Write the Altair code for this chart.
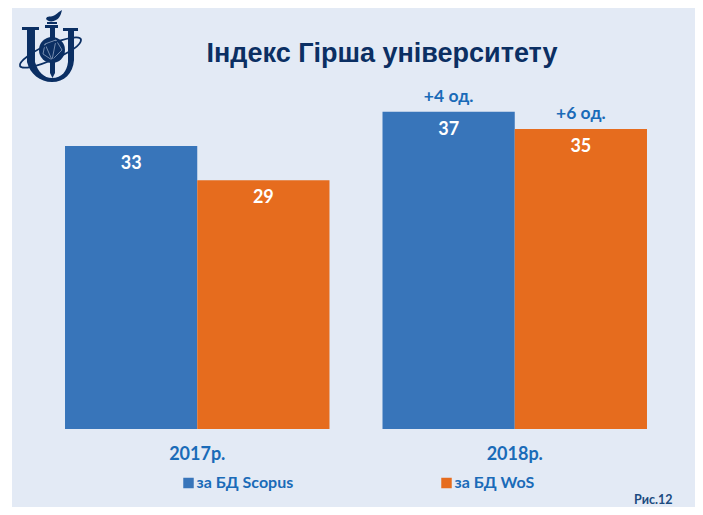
import re
import altair as alt
import pandas as pd

years = ["2017р.", "2017р.", "2018р.", "2018р."]
series = ["за БД Scopus", "за БД WoS", "за БД Scopus", "за БД WoS"]
values = [33, 29, 37, 35]
deltas = ["", "", "+4 од.", "+6 од."]
series_names = ["за БД Scopus", "за БД WoS"]
series_colors = ["#3875BA", "#E66C1E"]
title_text = "Індекс Гірша університету"
fig_label = "Рис.12"

NAVY = "#0B2F63"
BLUE = "#1A6BB8"
FONT = "Lato"
PL, PT = 30.5, 78   # plot origin inside the svg
SW, SH = 687, 499   # svg size that fits the window without rescaling

df = pd.DataFrame({"year": years, "series": series, "value": values, "delta": deltas})
dd = df[df.delta != ""]

x = alt.X("year:N", title=None,
          scale=alt.Scale(paddingInner=0.167, paddingOuter=0.0835),
          axis=alt.Axis(domain=False, ticks=False, labelAngle=0, labelFont=FONT, labelFontWeight="bold",
                        labelFontSize=18, labelColor=BLUE, labelPadding=16, zindex=1))
xo = alt.XOffset("series:N", scale=alt.Scale(domain=series_names, paddingInner=0, paddingOuter=0))
y = alt.Y("value:Q", axis=None, scale=alt.Scale(domain=[0, 40]))
one = pd.DataFrame({"a": [0]})

panel = alt.Chart(one).mark_rect(color="#E3EAF5", clip=False).encode(
    x=alt.value(12 - 8 - PL), x2=alt.value(SW - PL),
    y=alt.value(-PT), y2=alt.value(SH - PT))

bars = alt.Chart(df).mark_bar(width=alt.RelativeBandSize(band=1)).encode(
    x=x, xOffset=xo, y=y,
    color=alt.Color("series:N", title=None,
                    scale=alt.Scale(domain=series_names, range=series_colors),
                    legend=alt.Legend(orient="none", direction="horizontal", columns=2, columnPadding=145,
                                      legendX=142, legendY=389, symbolType="square", symbolSize=110,
                                      symbolStrokeWidth=0, labelFont=FONT, labelFontWeight="bold",
                                      labelFontSize=16, labelColor=BLUE, labelOffset=0)))

nums = alt.Chart(df).mark_text(dy=18, font=FONT, fontWeight="bold", fontSize=18, color="white").encode(
    x=x, xOffset=xo, y=y, text="value:Q")
delta = alt.Chart(dd).mark_text(dy=-15, font=FONT, fontWeight="bold", fontSize=17.5, color=BLUE).encode(
    x=x, xOffset=xo, y=y, text="delta:N")

title = alt.Chart(pd.DataFrame({"t": [title_text]})).mark_text(
    font="Liberation Sans", fontWeight="bold", fontSize=27, color=NAVY, align="center", baseline="alphabetic").encode(
    x=alt.value(382 - 8 - PL), y=alt.value(62 - 8 - PT), text="t:N")

# logo, drawn from SVG paths given in page pixels
CX, CY, R = 50, 46, 36
solid = ("M22 27H39V30H35V62C38 72 44 78 52 78C62 78 67 71 68 62V31H63V28H78V31H74V60C73 74 64 82 52 82"
         "C40 82 30 74 27 62V30H22Z"
         "M45 25H58V28H55V40H50V28H45Z"
         "M50 62H55V73L52.5 78L50 73Z"
         "M46 19C47 15 51 18 55 15C58 13 60 11 62 10C61 14 60 18 56 20C53 22 48 22 46 19Z"
         "M47 22H57V24H47Z")
lines = "M45 44L56 40L62 50L52 60L43 54ZM45 44L52 60M56 40L52 60"
ring_path = "M20 66C18 62 34 50 50 44C66 38 81 35 81 40C81 46 66 54 52 60C38 66 22 70 20 66Z"

def norm(path):
    out = []
    cmd, axis = None, 0
    for t in re.findall(r"[A-Za-z]|-?[\d.]+", path):
        if t.isalpha():
            cmd, axis = t, (1 if t == "V" else 0)
            out.append(t)
        else:
            v = float(t)
            out.append(f"{(v - (CX if axis == 0 else CY)) / R:.3f}")
            if cmd not in "HV":
                axis = 1 - axis
    return " ".join(out)

logo_size = (2 * R) ** 2
lx, ly = alt.value(CX - 8 - PL), alt.value(CY - 8 - PT)
logo = alt.Chart(one).mark_point(shape=norm(solid), filled=True, color=NAVY, size=logo_size, opacity=1, clip=False).encode(x=lx, y=ly)
globe = alt.Chart(one).mark_point(shape="circle", filled=True, color=NAVY, size=26 * 26, opacity=1).encode(
    x=alt.value(52 - 8 - PL), y=alt.value(50 - 8 - PT))
web = alt.Chart(one).mark_point(shape=norm(lines), filled=False, stroke="#8FA3C0", strokeWidth=0.8, size=logo_size, opacity=1).encode(x=lx, y=ly)
ring = alt.Chart(one).mark_point(shape=norm(ring_path), filled=False, stroke=NAVY, strokeWidth=1.8, size=logo_size, opacity=1).encode(x=lx, y=ly)

fig = alt.Chart(pd.DataFrame({"t": [fig_label]})).mark_text(
    font=FONT, fontWeight="bold", fontSize=12.5, color="#1B4A80", align="left").encode(
    x=alt.value(634 - 8 - PL), y=alt.value(500 - 8 - PT), text="t:N")

chart = alt.layer(panel, bars, nums, delta, title, logo, globe, web, ring, fig).properties(
    width=635, height=343,
    padding={"left": PL, "top": PT, "right": SW - PL - 635, "bottom": SH - PT - 343},
    autosize=alt.AutoSizeParams(type="none"),
    background="white",
).configure_view(stroke=None)

chart.save("out.html", embed_options={"renderer": "svg", "actions": False})
